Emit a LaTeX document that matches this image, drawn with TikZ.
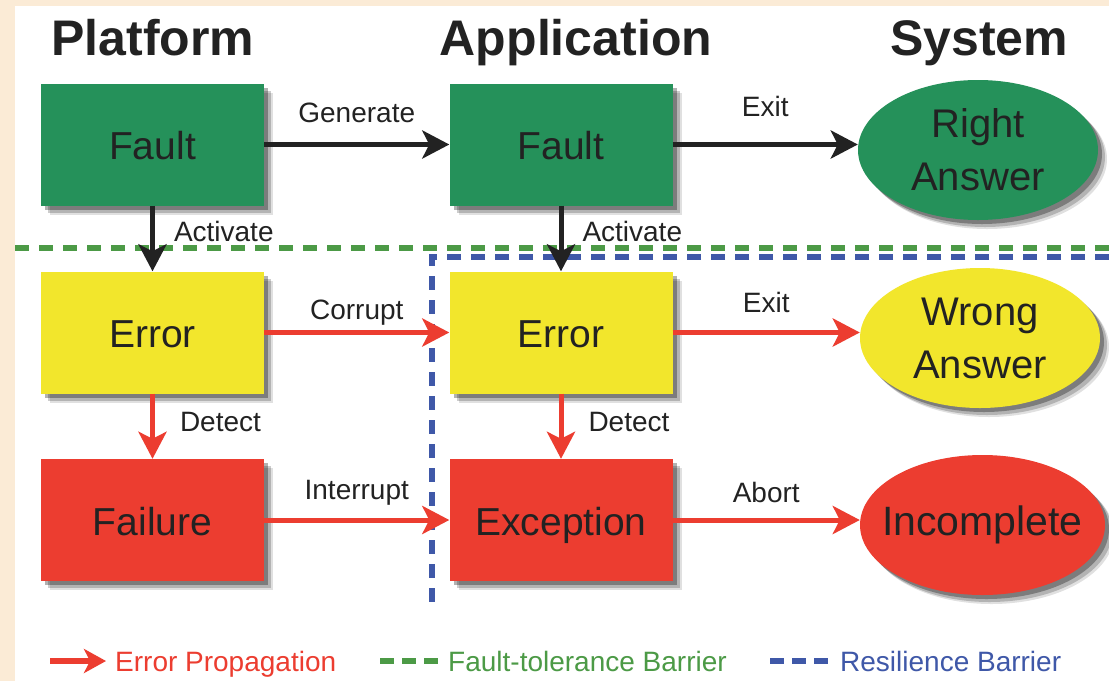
\documentclass[tikz,border=0pt]{standalone}
\usepackage{fontspec}
\setmainfont{Liberation Sans}
\usetikzlibrary{arrows.meta,shapes.geometric,shadows}
\definecolor{paper}{HTML}{FBEBD6}
\definecolor{faultgreen}{HTML}{25915A}
\definecolor{erroryellow}{HTML}{F2E62C}
\definecolor{failred}{HTML}{EC3D30}
\definecolor{inkgray}{HTML}{222222}
\definecolor{ftgreen}{HTML}{4C9A46}
\definecolor{resblue}{HTML}{3F58A8}

\begin{document}
\begin{tikzpicture}[x=1pt,y=-1pt]
				\tikzstyle{every node}=[text=inkgray]
				\tikzstyle{softshadow}=[drop shadow={shadow xshift=9pt,shadow yshift=-9pt,fill=black,opacity=.12},
				drop shadow={shadow xshift=7pt,shadow yshift=-7pt,fill=black,opacity=.2},
				drop shadow={shadow xshift=4pt,shadow yshift=-4pt,fill=black,opacity=.3}]
				\tikzstyle{box}=[rectangle,minimum width=223pt,minimum height=122pt,inner sep=0pt,
				text height=36pt,text depth=6pt,font=\fontsize{39}{42}\selectfont,softshadow]
				\tikzstyle{oval}=[ellipse,minimum width=240pt,minimum height=140pt,inner sep=0pt,
				align=center,font=\fontsize{40}{53}\selectfont,softshadow]
				\tikzstyle{header}=[anchor=base,font=\bfseries\fontsize{50}{54}\selectfont]
				\tikzstyle{flow}=[line width=5pt,-{Stealth[length=27pt,width=28pt,inset=7pt]}]
				\tikzstyle{arrowtext}=[font=\fontsize{28}{30}\selectfont,inner sep=0pt]
				\tikzstyle{barrier}=[line width=6pt,dash pattern=on 14pt off 10pt]
				\tikzstyle{legendtext}=[anchor=base west,inner sep=0pt,font=\fontsize{28}{30}\selectfont]
				\useasboundingbox (0,0) rectangle (1109,681);
				\fill[paper] (0,0) rectangle (1109,681);
				\fill[white] (15,6) rectangle (1109,681);
				% column headers
				\node[header] (hplat) at (153,55) {Platform};
				\node[header] (happ) at (576,55) {Application};
				\node[header] (hsys) at (979,55) {System};
				% barriers
				\draw[barrier,ftgreen] (15,248) -- (1109,248);
				\draw[barrier,resblue] (1109,257) -- (432,257) -- (432,610);
				% boxes
				\node[box,fill=faultgreen] (fault1) at (152.5,144.5) {Fault};
				\node[box,fill=faultgreen] (fault2) at (561,144.5) {Fault};
				\node[box,fill=erroryellow] (err1) at (152.5,332.5) {Error};
				\node[box,fill=erroryellow] (err2) at (561,332.5) {Error};
				\node[box,fill=failred] (fail1) at (152.5,520) {Failure};
				\node[box,fill=failred] (exc2) at (561,520) {Exception};
				\node[oval,fill=faultgreen] (right) at (978,150) {Right\\Answer};
				\node[oval,fill=erroryellow] (wrong) at (980,338) {Wrong\\Answer};
				\node[oval,fill=failred,minimum width=245pt,font=\fontsize{41}{53}\selectfont] (incomplete) at (982.5,525) {\makebox[0pt]{Incomplete}};
				% black arrows
				\draw[flow,inkgray] (fault1.east) -- node[arrowtext,above=19pt] {Generate} (fault2.west);
				\draw[flow,inkgray] (fault2.east) -- node[arrowtext,above=25pt] {Exit} (fault2.east -| right.west);
				\draw[flow,inkgray] (fault1.south) -- node[arrowtext,right=19pt,yshift=7pt] {Activate} (err1.north);
				\draw[flow,inkgray] (fault2.south) -- node[arrowtext,right=19pt,yshift=7pt] {Activate} (err2.north);
				% red arrows
				\draw[flow,failred] (err1.east) -- node[arrowtext,above=5pt] {Corrupt} (err2.west);
				\draw[flow,failred] (err2.east) -- node[arrowtext,above=17pt] {Exit} (err2.east -| wrong.west);
				\draw[flow,failred] (err1.south) -- node[arrowtext,right=25pt,yshift=4pt] {Detect} (fail1.north);
				\draw[flow,failred] (err2.south) -- node[arrowtext,right=25pt,yshift=4pt] {Detect} (exc2.north);
				\draw[flow,failred] (fail1.east) -- node[arrowtext,above=12pt] {Interrupt} (exc2.west);
				\draw[flow,failred] (exc2.east) -- node[arrowtext,above=15pt] {Abort} (exc2.east -| incomplete.west);
				% legend
				\coordinate (lstart) at (50,661);
				\coordinate (lend) at (106,661);
				\draw[line width=6pt,failred,-{Stealth[length=22pt,width=24pt,inset=6pt]}] (lstart) -- (lend);
				\node[legendtext,text=failred] (lerr) at (115,671) {Error Propagation};
				\draw[barrier,ftgreen,dash pattern=on 14pt off 8pt] (380,661) -- (438,661);
				\node[legendtext,text=ftgreen] (lft) at (448,671) {Fault-tolerance Barrier};
				\draw[barrier,resblue,dash pattern=on 14pt off 8pt] (770,661) -- (828,661);
				\node[legendtext,text=resblue] (lres) at (840,671) {Resilience Barrier};
\end{tikzpicture}
\end{document}
